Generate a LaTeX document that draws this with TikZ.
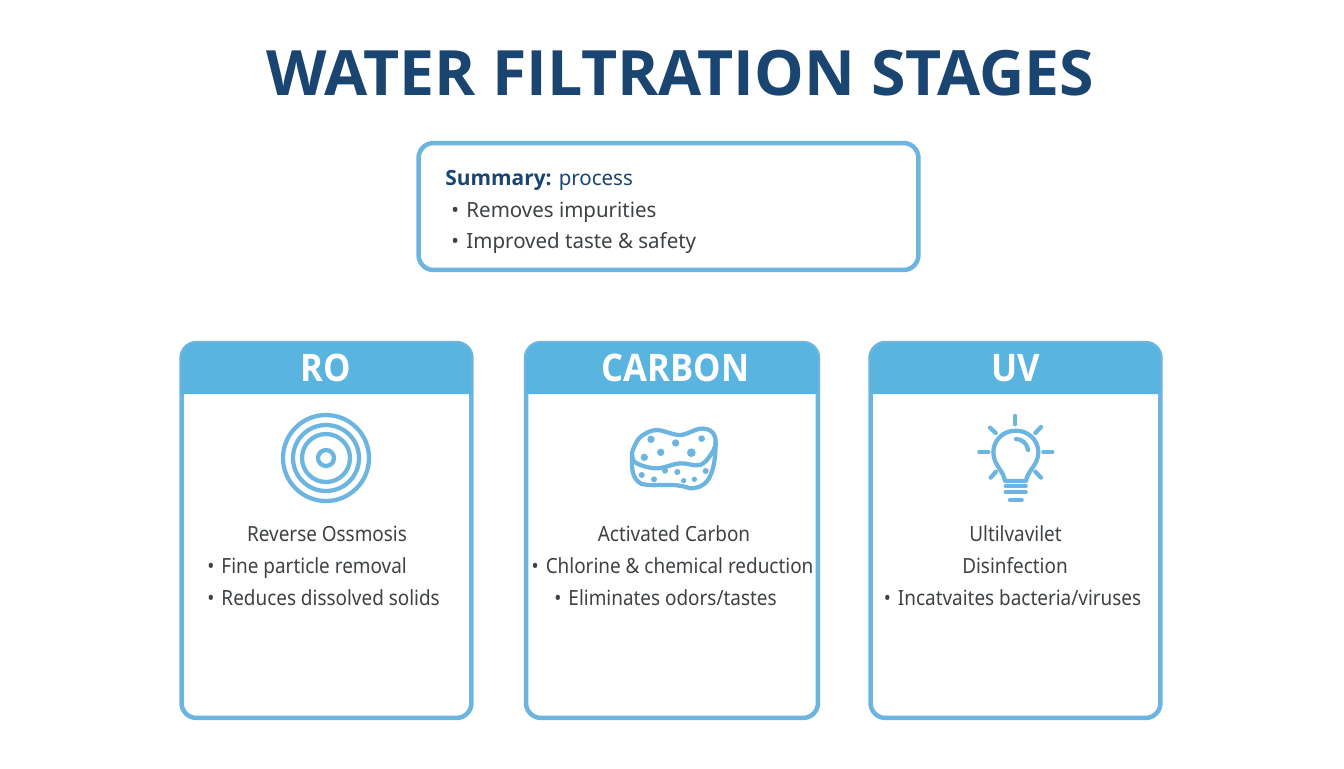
\documentclass[tikz,border=0pt]{standalone}
\usepackage{fontspec}
\setmainfont{Noto Sans}[FakeStretch=0.905]
\newfontfamily\headfont{Open Sans}
\newfontfamily\cardfont{Open Sans}[FakeStretch=0.91]
\newfontfamily\sumfont{Noto Sans}[FakeStretch=0.98]
\newcommand{\bul}{•\kern1.2pt\ }
\usetikzlibrary{positioning}
\definecolor{skyline}{HTML}{6BB5E0}
\definecolor{skyhead}{HTML}{5AB4E0}
\definecolor{navy}{HTML}{1A4571}
\definecolor{bodytxt}{HTML}{3E4245}
\tikzset{
    titletxt/.style = {font=\fontsize{35.6}{40}\headfont\bfseries,text=navy,inner sep=0,anchor=base},
    sumbox/.style = {draw=skyline,line width=0.09cm,rounded corners=0.3cm,fill=white,outer sep=0,minimum width=10cm,minimum height=2.54cm},
    cardbox/.style = {draw=skyline,line width=0.09cm,rounded corners=0.3cm,fill=white,outer sep=0,minimum width=5.8cm,minimum height=7.5cm},
    headfill/.style = {fill=skyhead},
    headtxt/.style = {font=\fontsize{21.6}{24}\cardfont\bfseries,text=white,inner sep=0,anchor=base},
    bodyc/.style = {font=\fontsize{11.9}{14}\selectfont,text=bodytxt,inner sep=0,anchor=base},
    bodyl/.style = {bodyc,anchor=base west},
    sumbody/.style = {bodyl,font=\fontsize{11.9}{14}\sumfont},
    sumhead/.style = {sumbody,text=navy},
    iconline/.style = {draw=skyline,line width=0.085cm,line cap=round,line join=round},
    icondot/.style = {fill=skyline}
}
\begin{document}
\begin{tikzpicture}[x=0.02cm,y=-0.02cm]
\useasboundingbox (0,0) rectangle (1344,768);
\fill[white] (0,0) rectangle (1344,768);
\node[titletxt] at (680.5, 95) (title) {WATER FILTRATION STAGES};
%
\node[sumbox] at (668.5, 206.5) (summary) {};
\node[sumhead] at (445, 185) (sumtop) {{\headfont\bfseries Summary:} process};
\node[sumbody] at (451, 217) (sumone) {\bul Removes impurities};
\node[sumbody] at (451, 248) (sumtwo) {\bul Improved taste \& safety};
%
\node[cardbox] at (326.5, 530.5) (ro) {};
\node[cardbox,minimum width=5.84cm] at (672, 530.5) (carbon) {};
\node[cardbox] at (1015.5, 530.5) (uv) {};
%
\fill[headfill] (ro.west |- 0,394) [rounded corners=0.3cm] -- (ro.north west) -- (ro.north east) [sharp corners] -- (ro.east |- 0,394) -- cycle;
\fill[headfill] (carbon.west |- 0,394) [rounded corners=0.3cm] -- (carbon.north west) -- (carbon.north east) [sharp corners] -- (carbon.east |- 0,394) -- cycle;
\fill[headfill] (uv.west |- 0,394) [rounded corners=0.3cm] -- (uv.north west) -- (uv.north east) [sharp corners] -- (uv.east |- 0,394) -- cycle;
\node[headtxt] at (326, 381) (rohead) {RO};
\node[headtxt] at (675.5, 381) (carbonhead) {CARBON};
\node[headtxt] at (1015.5, 381) (uvhead) {UV};
%
\node[bodyc] at (327, 541) (roa) {Reverse Ossmosis};
\node[bodyl] at (207, 573) (rob) {\bul Fine particle removal};
\node[bodyl] at (207, 605) (roc) {\bul Reduces dissolved solids};
%
\node[bodyc] at (674, 541) (carbona) {Activated Carbon};
\node[bodyc] at (672.5, 573) (carbonb) {\bul Chlorine \& chemical reduction};
\node[bodyc] at (665.5, 605) (carbonc) {\bul Eliminates odors/tastes};
%
\node[bodyc] at (1015.5, 541) (uva) {Ultilvavilet};
\node[bodyc] at (1015, 573) (uvb) {Disinfection};
\node[bodyc] at (1012.5, 605) (uvc) {\bul Incatvaites bacteria/viruses};
%
% rings
\draw[iconline] (326, 458) circle (43);
\draw[iconline] (326, 458) circle (33);
\draw[iconline] (326, 458) circle (24);
\draw[iconline] (326, 458) circle (8);
%
% sponge
\begin{scope}[shift={(600,410)},x=0.00667cm,y=-0.00667cm]
\draw[iconline] plot[smooth cycle,tension=0.6] coordinates {(96,135) (105,105) (125,78) (170,60) (240,75) (300,56) (335,65) (347,95) (335,130) (300,165) (240,160) (170,175) (110,160)};
\draw[iconline] (96,135) .. controls (96,170) and (92,205) .. (125,222) .. controls (170,232) and (215,215) .. (270,235) .. controls (310,235) and (347,215) .. (347,95);
\fill[icondot] (153,88) circle (11);
\fill[icondot] (227,99) circle (11);
\fill[icondot] (305,86) circle (10);
\fill[icondot] (133,142) circle (11);
\fill[icondot] (182,127) circle (11);
\fill[icondot] (274,128) circle (13);
\fill[icondot] (125,195) circle (9);
\fill[icondot] (162,208) circle (9);
\fill[icondot] (195,182) circle (9);
\fill[icondot] (232,186) circle (9);
\fill[icondot] (251,212) circle (8);
\fill[icondot] (283,208) circle (8);
\fill[icondot] (317,183) circle (9);
\end{scope}
%
% bulb
\begin{scope}[shift={(960,405)},x=0.00667cm,y=-0.00667cm]
\draw[iconline] (135,228) .. controls (130,195) and (100,180) .. (100,142) .. controls (100,105) and (130,77) .. (167,77) .. controls (205,77) and (235,105) .. (235,142) .. controls (235,180) and (203,195) .. (198,228) -- cycle;
\draw[iconline] (168,102) .. controls (185,102) and (202,115) .. (204,135);
\draw[iconline] (166,33) -- (166,58);
\draw[iconline] (90,68) -- (107,84);
\draw[iconline] (243,66) -- (226,84);
\draw[iconline] (58,142) -- (85,142);
\draw[iconline] (250,142) -- (277,142);
\draw[iconline] (92,218) -- (108,200);
\draw[iconline] (243,218) -- (226,200);
\draw[iconline] (137,243) -- (197,243);
\draw[iconline] (137,262) -- (197,262);
\draw[iconline] (150,285) -- (185,285);
\end{scope}
\end{tikzpicture}
\end{document}
